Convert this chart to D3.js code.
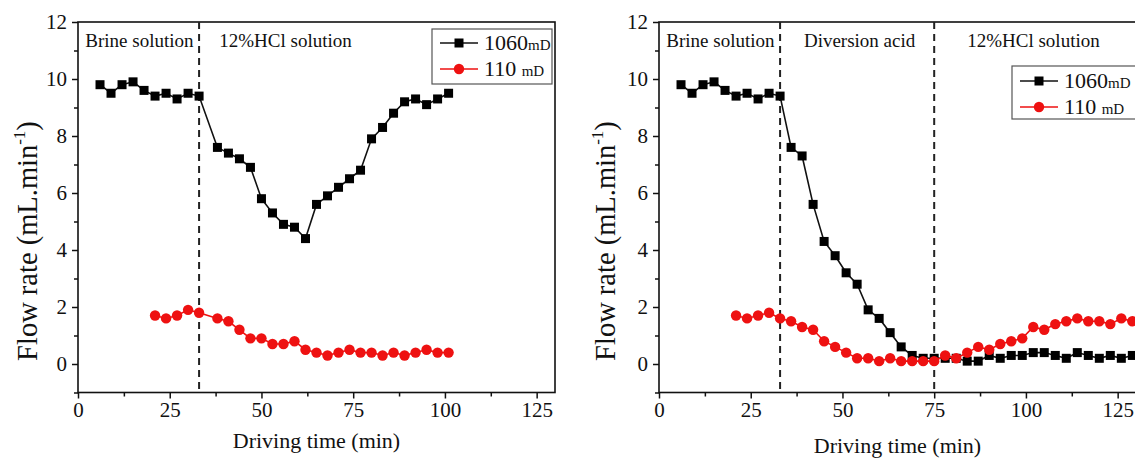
<!DOCTYPE html>
<html><head><meta charset="utf-8">
<script src="https://cdn.jsdelivr.net/npm/d3@7"></script>
<style>
body{margin:0;background:#fff}
svg{display:block}
svg text{font-family:"Liberation Serif",serif !important;fill:#111}
</style>
</head><body>
<svg id="c" width="1135" height="461" font-family="Liberation Serif, serif"></svg>
<script>
// ---- data ----
const xMajorTicks = [0, 25, 50, 75, 100, 125];
const xMinorTicks = [12.5, 37.5, 62.5, 87.5, 112.5];
const yMajorTicks = [0, 2, 4, 6, 8, 10, 12];
const yMinorTicks = [-1, 1, 3, 5, 7, 9, 11];

const leftTime1060 = [6,9,12,15,18,21,24,27,30,33,38,41,44,47,50,53,56,59,62,65,68,71,74,77,80,83,86,89,92,95,98,101];
const leftFlow1060 = [9.8,9.5,9.8,9.9,9.6,9.4,9.5,9.3,9.5,9.4,7.6,7.4,7.2,6.9,5.8,5.3,4.9,4.8,4.4,5.6,5.9,6.2,6.5,6.8,7.9,8.3,8.8,9.2,9.3,9.1,9.3,9.5];
const leftTime110 = [21,24,27,30,33,38,41,44,47,50,53,56,59,62,65,68,71,74,77,80,83,86,89,92,95,98,101];
const leftFlow110 = [1.7,1.6,1.7,1.9,1.8,1.6,1.5,1.2,0.9,0.9,0.7,0.7,0.8,0.5,0.4,0.3,0.4,0.5,0.4,0.4,0.3,0.4,0.3,0.4,0.5,0.4,0.4];

const rightTime1060 = [6,9,12,15,18,21,24,27,30,33,36,39,42,45,48,51,54,57,60,63,66,69,72,75,78,81,84,87,90,93,96,99,102,105,108,111,114,117,120,123,126,129];
const rightFlow1060 = [9.8,9.5,9.8,9.9,9.6,9.4,9.5,9.3,9.5,9.4,7.6,7.3,5.6,4.3,3.8,3.2,2.8,1.9,1.6,1.1,0.6,0.3,0.2,0.2,0.2,0.2,0.1,0.1,0.3,0.2,0.3,0.3,0.4,0.4,0.3,0.2,0.4,0.3,0.2,0.3,0.2,0.3];
const rightTime110 = [21,24,27,30,33,36,39,42,45,48,51,54,57,60,63,66,69,72,75,78,81,84,87,90,93,96,99,102,105,108,111,114,117,120,123,126,129];
const rightFlow110 = [1.7,1.6,1.7,1.8,1.6,1.5,1.3,1.2,0.8,0.6,0.4,0.2,0.2,0.1,0.2,0.1,0.1,0.1,0.1,0.3,0.2,0.4,0.6,0.5,0.7,0.8,0.9,1.3,1.2,1.4,1.5,1.6,1.5,1.5,1.4,1.6,1.5];

const leftStageLines = [33];
const leftStageLabels = [{t: "Brine solution", x: 2}, {t: "12%HCl solution", x: 38.5}];
const rightStageLines = [33, 75];
const rightStageLabels = [{t: "Brine solution", x: 2}, {t: "Diversion acid", x: 39.5}, {t: "12%HCl solution", x: 84}];

const seriesNames = ["1060", "110 "];

// ---- drawing ----
const FONT = "Liberation Serif, serif";
const svg = d3.select("#c");
const RED = "#ee1111";

function panel(o) {
  const x = d3.scaleLinear().domain([0, 130]).range([o.x0, o.x1]);
  const y = d3.scaleLinear().domain([-1, 12]).range([o.yb, 22]);
  const g = svg.append("g").attr("font-family", FONT);

  g.append("rect").attr("x", x(0)).attr("y", y(12))
    .attr("width", x(130) - x(0)).attr("height", y(-1) - y(12))
    .attr("fill", "none").attr("stroke", "#111").attr("stroke-width", 1.6);

  const ax = g.append("g").attr("transform", `translate(0,${y(-1)})`)
    .call(d3.axisBottom(x).tickValues(xMajorTicks).tickSize(6).tickPadding(4).tickFormat(d3.format("d")));
  const axm = g.append("g").attr("transform", `translate(0,${y(-1)})`)
    .call(d3.axisBottom(x).tickValues(xMinorTicks).tickSize(4).tickFormat(""));
  const ay = g.append("g").attr("transform", `translate(${x(0)},0)`)
    .call(d3.axisLeft(y).tickValues(yMajorTicks).tickSize(6).tickPadding(5).tickFormat(d3.format("d")));
  const aym = g.append("g").attr("transform", `translate(${x(0)},0)`)
    .call(d3.axisLeft(y).tickValues(yMinorTicks).tickSize(4).tickFormat(""));
  [ax, axm, ay, aym].forEach(a => {
    a.attr("font-family", FONT).attr("font-size", 21);
    a.select(".domain").remove();
    a.selectAll("line").attr("stroke", "#111").attr("stroke-width", 1.5);
    a.selectAll("text").attr("fill", "#111");
  });

  g.selectAll(".stage").data(o.stages).enter().append("line")
    .attr("x1", d => x(d)).attr("x2", d => x(d))
    .attr("y1", y(12)).attr("y2", y(-1))
    .attr("stroke", "#222").attr("stroke-width", 2).attr("stroke-dasharray", "7,5");
  g.selectAll(".slab").data(o.labels).enter().append("text")
    .attr("x", d => x(d.x)).attr("y", 47).attr("font-size", 19).text(d => d.t);

  const line = d3.line().x(d => x(d[0])).y(d => y(d[1]));
  const s1 = o.t1.map((t, i) => [t, o.v1[i]]);
  const s2 = o.t2.map((t, i) => [t, o.v2[i]]);
  g.append("path").datum(s1).attr("d", line).attr("fill", "none").attr("stroke", "#111").attr("stroke-width", 1.6);
  g.selectAll(".sq").data(s1).enter().append("rect")
    .attr("x", d => x(d[0]) - 4.5).attr("y", d => y(d[1]) - 4.5)
    .attr("width", 9).attr("height", 9).attr("fill", "#000");
  g.append("path").datum(s2).attr("d", line).attr("fill", "none").attr("stroke", RED).attr("stroke-width", 1.6);
  g.selectAll(".ci").data(s2).enter().append("circle")
    .attr("cx", d => x(d[0])).attr("cy", d => y(d[1])).attr("r", 5.2).attr("fill", RED);

  g.append("text").attr("x", (x(0) + x(130)) / 2).attr("y", o.xtY)
    .attr("text-anchor", "middle").attr("font-size", 22).text("Driving time (min)");
  const yt = g.append("text").attr("transform", `translate(${o.ytX},${o.ytY}) rotate(-90)`)
    .attr("text-anchor", "middle").attr("font-size", 28.5);
  yt.append("tspan").text("Flow rate (mL.min");
  yt.append("tspan").attr("font-size", 17).attr("dy", -12).text("-1");
  yt.append("tspan").attr("dy", 12).text(")");

  const L = o.leg;
  g.append("rect").attr("x", L.x).attr("y", L.y).attr("width", L.w).attr("height", L.h)
    .attr("fill", "#fff").attr("stroke", "#555").attr("stroke-width", 1.2);
  const rows = [{c: "#111", sq: true}, {c: RED, sq: false}];
  rows.forEach((r, i) => {
    const ry = L.y + L.r0 + i * L.dr;
    g.append("line").attr("x1", L.x + 8).attr("x2", L.x + 46).attr("y1", ry).attr("y2", ry)
      .attr("stroke", r.c).attr("stroke-width", 1.6);
    if (r.sq) g.append("rect").attr("x", L.x + 27 - 4.5).attr("y", ry - 4.5).attr("width", 9).attr("height", 9).attr("fill", "#000");
    else g.append("circle").attr("cx", L.x + 27).attr("cy", ry).attr("r", 5.2).attr("fill", RED);
    const t = g.append("text").attr("x", L.x + 52).attr("y", ry + 7).attr("font-size", 22);
    t.append("tspan").text(seriesNames[i]);
    t.append("tspan").attr("font-size", 15).text("mD");
  });
}

panel({x0: 78, x1: 555, yb: 392.5, t1: leftTime1060, v1: leftFlow1060, t2: leftTime110, v2: leftFlow110,
  stages: leftStageLines, labels: leftStageLabels, xtY: 448, ytX: 37, ytY: 241,
  leg: {x: 432, y: 29, w: 120, h: 55, r0: 14, dr: 26}});
panel({x0: 659, x1: 1136, yb: 392.5, t1: rightTime1060, v1: rightFlow1060, t2: rightTime110, v2: rightFlow110,
  stages: rightStageLines, labels: rightStageLabels, xtY: 453, ytX: 615, ytY: 241,
  leg: {x: 1012, y: 66, w: 130, h: 53, r0: 15, dr: 26}});
</script>
</body></html>
